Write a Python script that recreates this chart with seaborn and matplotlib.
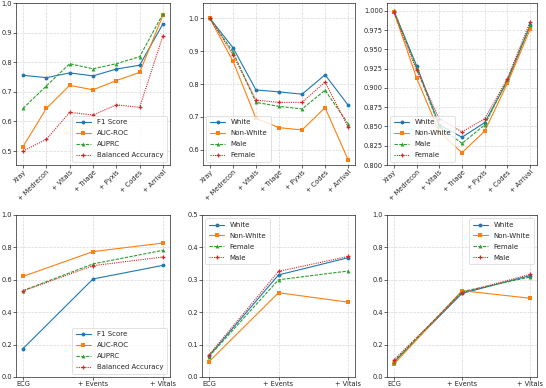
import pandas as pd
import matplotlib
matplotlib.use("Agg")
import matplotlib.pyplot as plt
import seaborn as sns

# x categories
steps_top = ["Xray", "+ Medrecon", "+ Vitals", "+ Triage", "+ Pyxis", "+ Codes", "+ Arrival"]
steps_bot = ["ECG", "+ Events", "+ Vitals"]

metrics = ["F1 Score", "AUC-ROC", "AUPRC", "Balanced Accuracy"]

# panel 1: metrics, top row
p1_f1 = [0.756, 0.748, 0.764, 0.754, 0.777, 0.790, 0.930]
p1_auroc = [0.515, 0.644, 0.722, 0.707, 0.738, 0.766, 0.959]
p1_auprc = [0.644, 0.720, 0.795, 0.778, 0.795, 0.819, 0.964]
p1_bacc = [0.500, 0.540, 0.631, 0.622, 0.656, 0.648, 0.890]

# panel 2: groups, top row
groups_a = ["White", "Non-White", "Male", "Female"]
p2_white = [1.0, 0.911, 0.782, 0.776, 0.769, 0.828, 0.736]
p2_nonwhite = [1.0, 0.870, 0.695, 0.667, 0.660, 0.728, 0.569]
p2_male = [1.0, 0.898, 0.744, 0.732, 0.724, 0.781, 0.679]
p2_female = [1.0, 0.890, 0.751, 0.744, 0.744, 0.806, 0.669]

# panel 3: groups, top row
p3_white = [1.0, 0.929, 0.852, 0.836, 0.855, 0.909, 0.981]
p3_nonwhite = [0.999, 0.913, 0.843, 0.816, 0.844, 0.906, 0.976]
p3_male = [1.0, 0.926, 0.850, 0.828, 0.852, 0.911, 0.981]
p3_female = [0.998, 0.923, 0.860, 0.843, 0.860, 0.912, 0.986]

# panel 4: metrics, bottom row
p4_f1 = [0.175, 0.605, 0.689]
p4_auroc = [0.621, 0.774, 0.827]
p4_auprc = [0.533, 0.698, 0.782]
p4_bacc = [0.531, 0.687, 0.741]

# panel 5: groups, bottom row
groups_b = ["White", "Non-White", "Female", "Male"]
p5_white = [0.065, 0.315, 0.368]
p5_nonwhite = [0.047, 0.260, 0.231]
p5_female = [0.063, 0.300, 0.327]
p5_male = [0.068, 0.326, 0.372]

# panel 6: groups, bottom row
p6_white = [0.091, 0.516, 0.626]
p6_nonwhite = [0.078, 0.533, 0.486]
p6_female = [0.095, 0.527, 0.617]
p6_male = [0.105, 0.520, 0.634]

sns.set_style("white")
plt.rcParams["font.family"] = ["DejaVu Sans"]
plt.rcParams["font.size"] = 5

colors = sns.color_palette("tab10", 4)
mk = ["o", "s", "^", "P"]
ds = ["", "", (3, 1.2), (1, 1)]


def make_df(steps, names, series):
    rows = []
    for name, vals in zip(names, series):
        for s, v in zip(steps, vals):
            rows.append({"step": s, "value": v, "series": name})
    return pd.DataFrame(rows)


def draw(ax, steps, names, series, ylim, yticks, legend_loc, rotate):
    df = make_df(steps, names, series)
    sns.lineplot(data=df, x="step", y="value", hue="series", style="series",
                 palette=dict(zip(names, colors)),
                 markers=dict(zip(names, mk)), dashes=dict(zip(names, ds)),
                 sort=False, linewidth=0.8, markersize=2.8, markeredgewidth=0,
                 ax=ax)
    ax.set_ylim(*ylim)
    ax.set_yticks(yticks)
    ax.set_xlabel("")
    ax.set_ylabel("")
    ax.grid(True, ls="--", lw=0.5, color="#d8d8d8")
    ax.tick_params(axis="both", labelsize=4.8, length=2, width=0.5, pad=1,
                   left=True, bottom=True)
    for sp in ax.spines.values():
        sp.set_color("#222222")
        sp.set_linewidth(0.5)
    if rotate:
        plt.setp(ax.get_xticklabels(), rotation=45, ha="right",
                 rotation_mode="anchor")
    leg = ax.legend(loc=legend_loc, fontsize=5, frameon=True,
                    handlelength=2.2, borderpad=0.5, labelspacing=0.7)
    leg.get_frame().set_linewidth(0.5)


fig = plt.figure(figsize=(5.46, 3.88), dpi=100)

top_b, h = 0.5747, 0.4175
bot_b = 0.0284
ax1 = fig.add_axes([16 / 546, top_b, 154 / 546, h])
ax2 = fig.add_axes([203 / 546, top_b, 152 / 546, h])
ax3 = fig.add_axes([387 / 546, top_b, 150 / 546, h])
ax4 = fig.add_axes([16 / 546, bot_b, 154 / 546, h])
ax5 = fig.add_axes([202 / 546, bot_b, 153 / 546, h])
ax6 = fig.add_axes([387 / 546, bot_b, 150 / 546, h])

draw(ax1, steps_top, metrics, [p1_f1, p1_auroc, p1_auprc, p1_bacc],
     (0.453, 1.0), [0.5, 0.6, 0.7, 0.8, 0.9, 1.0], "lower right", True)
draw(ax2, steps_top, groups_a, [p2_white, p2_nonwhite, p2_male, p2_female],
     (0.553, 1.047), [0.6, 0.7, 0.8, 0.9, 1.0], "lower left", True)
draw(ax3, steps_top, groups_a, [p3_white, p3_nonwhite, p3_male, p3_female],
     (0.80, 1.01), [0.800, 0.825, 0.850, 0.875, 0.900, 0.925, 0.950, 0.975, 1.000],
     "lower left", True)
ax3.yaxis.set_major_formatter(matplotlib.ticker.FormatStrFormatter("%.3f"))
draw(ax4, steps_bot, metrics, [p4_f1, p4_auroc, p4_auprc, p4_bacc],
     (0.0, 1.0), [0.0, 0.2, 0.4, 0.6, 0.8, 1.0], "lower right", False)
draw(ax5, steps_bot, groups_b, [p5_white, p5_nonwhite, p5_female, p5_male],
     (0.0, 0.5), [0.0, 0.1, 0.2, 0.3, 0.4, 0.5], "upper left", False)
draw(ax6, steps_bot, groups_b, [p6_white, p6_nonwhite, p6_female, p6_male],
     (0.0, 1.0), [0.0, 0.2, 0.4, 0.6, 0.8, 1.0], "upper right", False)

fig.savefig("out.png", dpi=100)
